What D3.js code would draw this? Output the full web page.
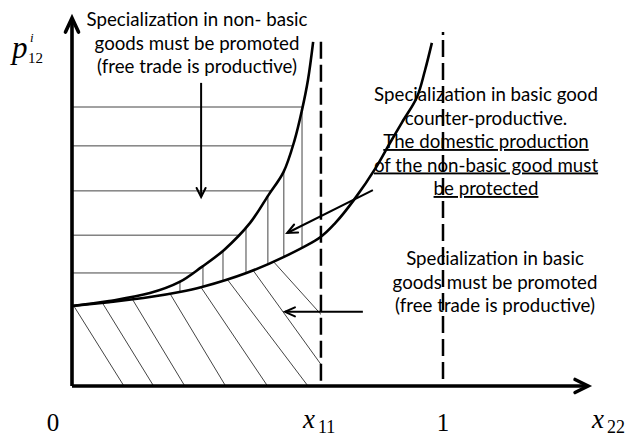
<!DOCTYPE html>
<html><head><meta charset="utf-8">
<script src="https://cdn.jsdelivr.net/npm/d3@7"></script>
<style>body{margin:0;background:#fff}</style>
</head><body>
<svg id="c" width="633" height="439"></svg>
<script>
// ---- data ----
const curveAX = [0, 0.10, 0.21, 0.29, 0.35, 0.41, 0.48, 0.53, 0.57, 0.60, 0.62, 0.636, 0.65];
const curveAY = [2.22, 2.36, 2.58, 2.89, 3.31, 3.78, 4.53, 5.31, 5.94, 6.83, 7.67, 8.5, 9.56];
const curveBX = [0, 0.10, 0.21, 0.29, 0.35, 0.47, 0.57, 0.67, 0.71, 0.76, 0.82, 0.857, 0.89, 0.93, 0.951, 0.97];
const curveBY = [2.22, 2.33, 2.47, 2.61, 2.75, 3.14, 3.58, 4.14, 4.53, 5.17, 6.08, 6.75, 7.33, 8.03, 8.75, 9.53];
const x11 = 0.671;
const hLevels = [7.75, 6.67, 5.42, 4.19, 3.14];            // horizontal hatch
const vLevels = [0.291, 0.353, 0.407, 0.469, 0.528, 0.571, 0.62]; // vertical hatch
const dTop = [-0.164, -0.079, 0.011, 0.122, 0.20, 0.269, 0.363, 0.408]; // diagonal hatch x at y=5
const dBot = [0.140, 0.220, 0.304, 0.414, 0.527, 0.636, 0.713, 0.845];  // diagonal hatch x at y=0
const tickVals = [0, x11, 1, 1.45];
const tickMain = ["0", "x", "1", "x"];
const tickSub = ["", "11", "", "22"];
const block1 = ["Specialization in non- basic", "goods must be promoted", "(free trade is productive)"];
const block2 = ["Specialization in basic good", "counter-productive.", "The domestic production", "of the non-basic good must", "be protected"];
const block2Under = [false, false, true, true, true];
const block3 = ["Specialization in basic", "goods must be promoted", "(free trade is productive)"];

// ---- scales ----
const svg = d3.select("#c");
const x = d3.scaleLinear().domain([0, 1]).range([72, 443]);
const y = d3.scaleLinear().domain([0, 10]).range([386, 26]);
const A = curveAX.map((v, i) => [v, curveAY[i]]);
const B = curveBX.map((v, i) => [v, curveBY[i]]);
const line = d3.line().x(d => x(d[0])).y(d => y(d[1])).curve(d3.curveCatmullRom.alpha(0.5));
const defs = svg.append("defs");

// clip regions
defs.append("clipPath").attr("id", "leftA").append("path")
  .attr("d", line(A) + `L${x(0)},${y(A[A.length-1][1])}Z`);
defs.append("clipPath").attr("id", "betweenAB").append("path")
  .attr("d", line(A) + "L" + line(B.slice().reverse()).slice(1) + "Z");
defs.append("clipPath").attr("id", "underB").append("path")
  .attr("d", line(B) + `L${x(1.2)},${y(9.53)}L${x(1.2)},${y(0)}L${x(0)},${y(0)}Z`);
defs.append("clipPath").attr("id", "leftX11").append("rect")
  .attr("x", x(0)).attr("y", 0).attr("width", x(x11) - x(0)).attr("height", y(0));

const hatch = {stroke: "#444", "stroke-width": 1};
function st(sel, o) { for (const k in o) sel.attr(k, o[k]); return sel; }

// horizontal hatch
const gH = svg.append("g").attr("clip-path", "url(#leftA)");
hLevels.forEach(v => st(gH.append("line").attr("x1", x(0)).attr("x2", x(1)).attr("y1", y(v)).attr("y2", y(v)), hatch));
// vertical hatch
const gV = svg.append("g").attr("clip-path", "url(#betweenAB)");
vLevels.forEach(v => st(gV.append("line").attr("x1", x(v)).attr("x2", x(v)).attr("y1", y(0)).attr("y2", y(10)), hatch));
// diagonal hatch
const gD0 = svg.append("g").attr("clip-path", "url(#leftX11)");
const gD = gD0.append("g").attr("clip-path", "url(#underB)");
dTop.forEach((t, i) => st(gD.append("line").attr("x1", x(t)).attr("y1", y(5)).attr("x2", x(dBot[i])).attr("y2", y(0)), hatch));

// dashed verticals
svg.append("line").attr("x1", x(x11)).attr("x2", x(x11)).attr("y1", y(9.56)).attr("y2", y(0))
  .attr("stroke", "#000").attr("stroke-width", 2.5).attr("stroke-dasharray", "17,6");
svg.append("line").attr("x1", x(1)).attr("x2", x(1)).attr("y1", y(9.83)).attr("y2", y(0))
  .attr("stroke", "#000").attr("stroke-width", 2.5).attr("stroke-dasharray", "3,5,17,6,17,6,17,6,17,6,17,6,17,6,17,6,17,6,17,6,17,6,17,6,17,6,17,6,17,6,17,6,17,6");

// curves
svg.append("path").attr("d", line(A)).attr("fill", "none").attr("stroke", "#000").attr("stroke-width", 2.6);
svg.append("path").attr("d", line(B)).attr("fill", "none").attr("stroke", "#000").attr("stroke-width", 2.6);

// arrows
function arrow(x1, y1, x2, y2, len, half, w) {
  const g = svg.append("g").attr("stroke", "#000").attr("fill", "none").attr("stroke-width", w);
  g.append("line").attr("x1", x1).attr("y1", y1).attr("x2", x2).attr("y2", y2);
  const a = Math.atan2(y2 - y1, x2 - x1);
  const ux = Math.cos(a), uy = Math.sin(a);
  const bx = x2 - ux * len, by = y2 - uy * len;
  g.append("path").attr("d", `M${bx - uy*half},${by + ux*half}L${x2},${y2}L${bx + uy*half},${by - ux*half}`)
    .attr("stroke-linejoin", "miter").attr("stroke-linecap", "round");
}
arrow(x(0), y(0), x(0), y(10.22), 14, 6.5, 3.6);
arrow(x(0), y(0), x(1.391), y(0), 13, 6.5, 3.6);
arrow(x(0.348), y(8.42), x(0.348), y(5.25), 9, 4.5, 2);
arrow(x(0.811), y(5.44), x(0.580), y(4.25), 10, 4.5, 2);
arrow(x(0.784), y(2.06), x(0.574), y(2.06), 10, 4.5, 2);

// text blocks
const fam = "Lato, 'Open Sans', sans-serif";
const tmp = svg.append("text").attr("font-family", fam).attr("font-size", 20).text(block1[2]);
const fs = 20 * 200 / tmp.node().getComputedTextLength();
tmp.remove();
function block(lines, cx, y0, dy, under) {
  lines.forEach((s, i) => {
    svg.append("text").attr("x", cx).attr("y", y0 + i * dy).attr("text-anchor", "middle")
      .attr("font-family", fam).attr("font-size", fs).attr("fill", "#000")
      .attr("text-decoration", under && under[i] ? "underline" : null).text(s);
  });
}
block(block1, 197, 26, 23.6);
block(block2, 486, 101, 23.5, block2Under);
block(block3, 495, 265, 23.5);

// axis tick labels
const serif = "'Liberation Serif', 'DejaVu Serif', serif";
tickVals.forEach((v, i) => {
  const t = svg.append("text").attr("font-family", serif).attr("fill", "#000").attr("y", 428);
  if (tickSub[i]) {
    t.attr("x", x(v) - 18);
    t.append("tspan").attr("font-style", "italic").attr("font-size", 27).text(tickMain[i]);
    t.append("tspan").attr("font-size", 18).attr("dy", 5).attr("dx", 3).text(tickSub[i]);
  } else {
    t.attr("x", i === 0 ? 53 : x(v)).attr("y", 431).attr("text-anchor", "middle").attr("font-size", 25).text(tickMain[i]);
  }
});
// y label p^i_12
const p = svg.append("text").attr("font-family", serif).attr("fill", "#000");
p.append("tspan").attr("x", 12).attr("y", 58).attr("font-style", "italic").attr("font-size", 31).text("p");
p.append("tspan").attr("x", 30).attr("y", 42).attr("font-style", "italic").attr("font-size", 13).text("i");
p.append("tspan").attr("x", 28).attr("y", 63).attr("font-size", 15).text("12");
</script>
</body></html>
